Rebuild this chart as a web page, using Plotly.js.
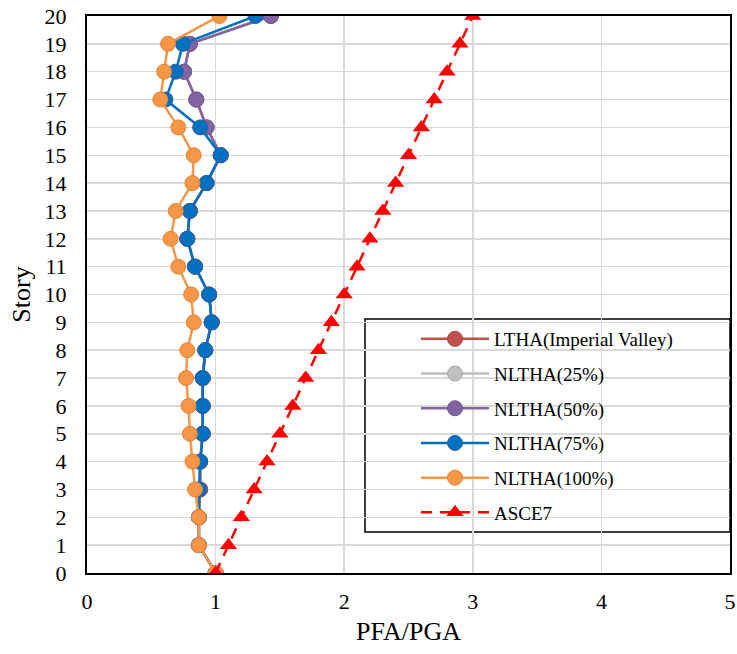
<!DOCTYPE html>
<html>
<head>
<meta charset="utf-8">
<script src="https://cdn.plot.ly/plotly-3.0.1.min.js"></script>
<style>
html,body{margin:0;padding:0;background:#fff;}
#chart{width:737px;height:654px;}
</style>
</head>
<body>
<div id="chart"></div>
<script>
var stories = [0,1,2,3,4,5,6,7,8,9,10,11,12,13,14,15,16,17,18,19,20];
var ltha    = [1.0,0.87,0.87,0.88,0.88,0.90,0.90,0.90,0.92,0.97,0.95,0.84,0.78,0.80,0.93,1.04,0.93,0.85,0.755,0.80,1.43];
var nltha25 = [1.0,0.87,0.87,0.88,0.88,0.90,0.90,0.90,0.92,0.97,0.95,0.84,0.78,0.80,0.93,1.04,0.93,0.85,0.755,0.80,1.43];
var nltha50 = [1.0,0.87,0.87,0.88,0.88,0.90,0.90,0.90,0.92,0.97,0.95,0.84,0.78,0.80,0.93,1.04,0.93,0.85,0.755,0.80,1.43];
var nltha75 = [1.0,0.87,0.87,0.87,0.88,0.90,0.90,0.90,0.92,0.97,0.95,0.84,0.78,0.80,0.93,1.04,0.88,0.61,0.69,0.745,1.31];
var nltha100= [1.0,0.87,0.87,0.84,0.82,0.80,0.79,0.77,0.78,0.83,0.81,0.71,0.65,0.69,0.82,0.83,0.71,0.57,0.60,0.63,1.03];
var asce7   = [1.0,1.1,1.2,1.3,1.4,1.5,1.6,1.7,1.8,1.9,2.0,2.1,2.2,2.3,2.4,2.5,2.6,2.7,2.8,2.9,3.0];
var xTicks = [0,1,2,3,4,5];
var yTicks = stories;

function series(name, x, color, edge, group){
  return {
    type:'scatter', mode:'lines+markers', name:name, x:x, y:stories,
    line:{color:color, width:2.5},
    marker:{symbol:'circle', size:15, color:color, line:{color:edge, width:1}},
    legendgroup:group
  };
}
var data = [
  series('LTHA(Imperial Valley)', ltha, '#C0504D', '#A8423F', 'g1'),
  series('NLTHA(25%)', nltha25, '#BFBFBF', '#A6A6A6', 'g2'),
  series('NLTHA(50%)', nltha50, '#8064A2', '#6E5690', 'g3'),
  series('NLTHA(75%)', nltha75, '#0070C0', '#2E5F9E', 'g4'),
  series('NLTHA(100%)', nltha100, '#F79646', '#E0843A', 'g5'),
  {type:'scatter', mode:'lines+markers', name:'ASCE7', x:asce7, y:stories,
   line:{color:'#FF0000', width:2.5, dash:'11px,8px'},
   marker:{symbol:'triangle-up', size:15, color:'#FF0000'},
   legendgroup:'g6'}
];
var fontFam = '"Liberation Serif","Times New Roman",serif';
var layout = {
  width:737, height:654,
  margin:{l:87, r:7, t:16, b:81},
  paper_bgcolor:'#fff', plot_bgcolor:'#fff',
  font:{family:fontFam, color:'#000', size:18},
  showlegend:true,
  xaxis:{range:[0,5], tickvals:xTicks, ticktext:xTicks.map(String), showgrid:true, gridcolor:'#D9D9D9', gridwidth:1.5,
         zeroline:false, showline:true, linecolor:'#000', linewidth:2, mirror:true, ticks:'',
         ticklabelstandoff:8,
         tickfont:{family:fontFam, size:22, color:'#000'},
         title:{text:'PFA/PGA', font:{family:fontFam, size:26, color:'#000'}, standoff:8}},
  yaxis:{range:[0,20], tickvals:yTicks, ticktext:yTicks.map(String), showgrid:true, gridcolor:'#D9D9D9', gridwidth:1.5,
         zeroline:false, showline:true, linecolor:'#000', linewidth:2, mirror:true, ticks:'',
         ticklabelstandoff:14,
         tickfont:{family:fontFam, size:22, color:'#000'},
         title:{text:'Story', font:{family:fontFam, size:26, color:'#000'}, standoff:6}},
  legend:{x:(416-87)/643, y:(573-320)/557, xanchor:'left', yanchor:'top', bgcolor:'rgba(0,0,0,0)', borderwidth:0,
          font:{family:fontFam, size:19, color:'#000'}, itemwidth:68, tracegroupgap:7, traceorder:'grouped'},
  shapes:[{type:'rect', xref:'paper', yref:'paper', x0:(365-87)/643, x1:(730-87)/643, y0:(573-532)/557, y1:(573-319)/557,
           line:{color:'#000', width:1.5}, fillcolor:'#fff', layer:'below'}]
};
Plotly.newPlot('chart', data, layout, {displayModeBar:false, staticPlot:true});
</script>
</body>
</html>
